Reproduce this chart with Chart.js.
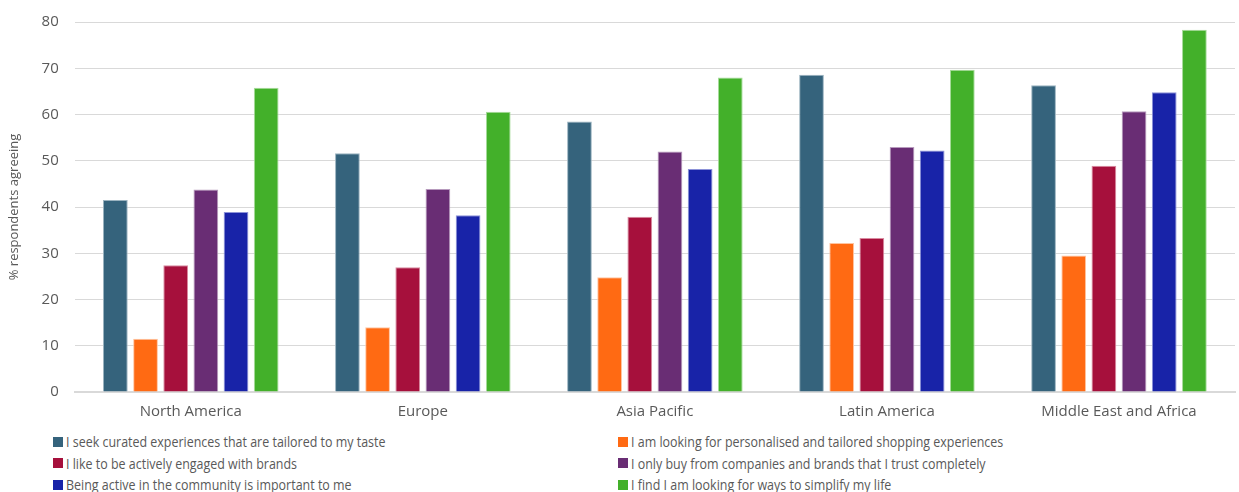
<!DOCTYPE html>
<html>
<head>
<meta charset="utf-8">
<script src="https://cdn.jsdelivr.net/npm/chart.js@4/dist/chart.umd.min.js"></script>
<style>
  html, body { margin: 0; padding: 0; background: #fff; }
  #wrap { position: relative; width: 1239px; height: 492px; overflow: hidden; }
  #chartBox { position: absolute; left: 0; top: -3px; width: 1239px; height: 435px; }
  #legend { position: absolute; left: 53px; top: 432px; width: 1180px; font: 14px "Open Sans", sans-serif; color: #595959; }
  .item { position: absolute; display: flex; align-items: center; white-space: nowrap; }
  .box { width: 10px; height: 10px; margin-right: 3px; flex: none; }
  .txt { display: inline-block; transform: scaleX(0.89); transform-origin: left center; }
</style>
</head>
<body>
<div id="wrap">
  <div id="chartBox"><canvas id="regionChart"></canvas></div>
  <div id="legend"></div>
</div>
<script>
const regions = ['North America', 'Europe', 'Asia Pacific', 'Latin America', 'Middle East and Africa'];

const seriesNames = [
  'I seek curated experiences that are tailored to my taste',
  'I am looking for personalised and tailored shopping experiences',
  'I like to be actively engaged with brands',
  'I only buy from companies and brands that I trust completely',
  'Being active in the community is important to me',
  'I find I am looking for ways to simplify my life'
];

const curated = [41.5, 51.6, 58.5, 68.6, 66.3];
const personalised = [11.5, 14.0, 24.8, 32.2, 29.5];
const engaged = [27.4, 27.0, 37.9, 33.3, 48.9];
const trust = [43.8, 43.9, 52.0, 53.0, 60.7];
const community = [38.9, 38.2, 48.2, 52.2, 64.8];
const simplify = [65.8, 60.6, 68.0, 69.7, 78.3];

const yTicks = [0, 10, 20, 30, 40, 50, 60, 70, 80];

const colors = ['#35637C', '#FF6A13', '#A6103C', '#692D74', '#1823A8', '#43B02A'];
const edges = ['#9bb3c0', '#ffc4a0', '#d98aa0', '#b79abd', '#8c92d8', '#a8dc9c'];

const values = [curated, personalised, engaged, trust, community, simplify];

const datasets = values.map((v, i) => ({
  label: seriesNames[i],
  data: v,
  backgroundColor: colors[i],
  borderColor: edges[i],
  borderWidth: 1,
  categoryPercentage: 0.78,
  barPercentage: 0.82
}));

const font = '"Open Sans", sans-serif';

const chart = new Chart(document.getElementById('regionChart').getContext('2d'), {
  type: 'bar',
  data: { labels: regions, datasets: datasets },
  options: {
    responsive: true,
    maintainAspectRatio: false,
    animation: false,
    layout: { padding: { top: 0, right: 4, left: 2 } },
    plugins: { legend: { display: false }, tooltip: { enabled: false } },
    scales: {
      x: {
        grid: { display: false, drawTicks: false },
        border: { color: '#d9d9d9', width: 2 },
        ticks: { color: '#595959', font: { family: font, size: 15 }, padding: 11 }
      },
      y: {
        min: 0,
        max: 80,
        afterBuildTicks: axis => { axis.ticks = yTicks.map(v => ({ value: v })); },
        grid: { color: '#d9d9d9', lineWidth: 1, drawTicks: false },
        border: { display: false },
        ticks: { color: '#595959', font: { family: font, size: 15 }, padding: 16 },
        title: {
          display: true,
          text: '% respondents agreeing',
          color: '#595959',
          font: { family: font, size: 13 },
          padding: { bottom: 4 }
        }
      }
    }
  }
});

// legend in two columns, three rows
const legend = document.getElementById('legend');
chart.data.datasets.forEach((ds, i) => {
  const item = document.createElement('div');
  item.className = 'item';
  item.style.left = (i % 2 === 0 ? 0 : 565) + 'px';
  item.style.top = (Math.floor(i / 2) * 21.7) + 'px';
  item.innerHTML = '<span class="box" style="background:' + ds.backgroundColor + '"></span><span class="txt">' + ds.label + '</span>';
  legend.appendChild(item);
});
</script>
</body>
</html>
